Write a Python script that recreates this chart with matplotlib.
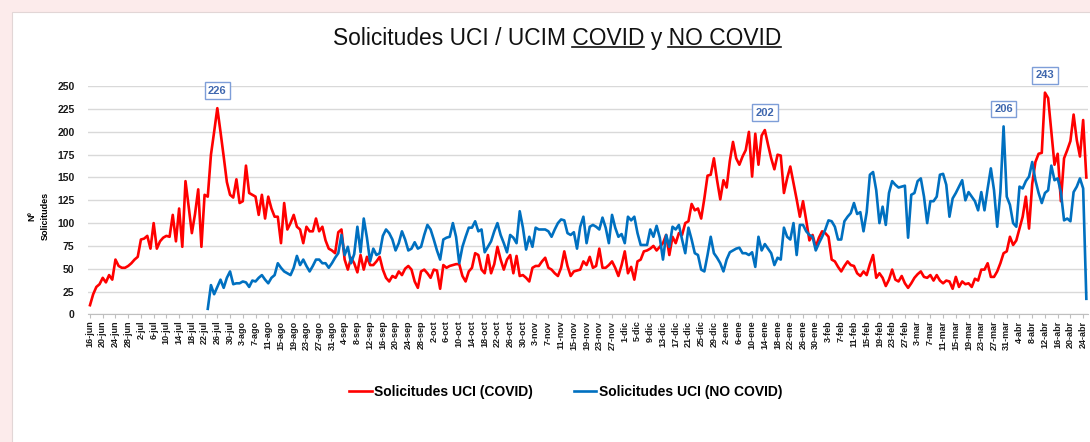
import numpy as np
import pandas as pd
import matplotlib
matplotlib.use("Agg")
import matplotlib.pyplot as plt
from matplotlib.patches import Rectangle
from matplotlib.lines import Line2D

plt.rcParams['font.family'] = ['Liberation Sans', 'DejaVu Sans']

# datos diarios desde el 16-jun-2020
fecha_inicio = "2020-06-16"
meses = {6: "jun", 7: "jul", 8: "ago", 9: "sep", 10: "oct", 11: "nov",
         12: "dic", 1: "ene", 2: "feb", 3: "mar", 4: "abr"}

covid = [
    10, 22, 30, 33, 40, 35, 43, 38, 60, 53,
    51, 51, 53, 56, 60, 63, 82, 83, 86, 72,
    100, 72, 80, 84, 86, 85, 109, 80, 116, 74,
    146, 118, 89, 110, 137, 74, 131, 129, 175, 200,
    226, 200, 173, 145, 131, 128, 148, 122, 124, 163,
    133, 131, 129, 109, 131, 105, 129, 116, 107, 107,
    78, 122, 93, 100, 109, 96, 93, 78, 96, 91,
    91, 105, 91, 96, 81, 72, 70, 67, 90, 93,
    60, 49, 62, 56, 46, 65, 49, 63, 54, 54,
    58, 63, 49, 40, 36, 42, 40, 47, 43, 50,
    53, 49, 36, 29, 47, 49, 45, 40, 49, 48,
    28, 54, 51, 53, 54, 55, 55, 42, 36, 47,
    51, 67, 65, 49, 45, 65, 45, 55, 74, 60,
    49, 60, 65, 45, 64, 42, 43, 40, 36, 51,
    53, 53, 58, 62, 51, 49, 45, 42, 51, 69,
    53, 42, 47, 48, 49, 58, 54, 63, 51, 53,
    72, 51, 51, 54, 58, 51, 42, 54, 69, 45,
    52, 38, 58, 60, 69, 70, 72, 75, 70, 74,
    78, 87, 65, 85, 78, 89, 87, 100, 102, 121,
    114, 116, 105, 127, 152, 153, 171, 147, 126, 147,
    139, 168, 189, 171, 164, 173, 180, 200, 151, 198,
    164, 196, 202, 186, 171, 159, 175, 174, 133, 149,
    162, 144, 126, 107, 124, 103, 81, 87, 74, 84,
    91, 89, 85, 60, 58, 52, 47, 53, 58, 54,
    53, 45, 42, 47, 43, 55, 65, 40, 45, 40,
    31, 38, 49, 38, 36, 42, 34, 29, 34, 40,
    44, 47, 41, 40, 43, 37, 43, 37, 34, 37,
    36, 28, 41, 30, 36, 33, 34, 30, 39, 37,
    49, 49, 56, 41, 41, 47, 56, 67, 69, 85,
    76, 81, 94, 107, 129, 94, 143, 167, 176, 177,
    243, 237, 200, 164, 176, 124, 171, 180, 190, 219,
    191, 173, 213, 150,
]

# la serie NO COVID empieza el 23-jul
no_covid_inicio = 37
no_covid = [
    6, 32, 22, 30, 38, 29, 40, 47, 33, 34, 34, 36, 35,
    30, 37, 36, 40, 43, 38, 34, 40, 43, 56,
    51, 47, 45, 43, 51, 64, 54, 60, 53, 47,
    53, 60, 60, 56, 56, 51, 56, 62, 67, 87,
    65, 74, 56, 66, 96, 68, 105, 84, 58, 72,
    65, 67, 86, 93, 89, 82, 70, 78, 91, 82,
    70, 72, 79, 72, 74, 87, 98, 93, 82, 70,
    60, 82, 84, 85, 100, 85, 56, 74, 85, 95,
    95, 102, 91, 93, 68, 74, 80, 91, 100, 87,
    78, 68, 87, 84, 78, 113, 95, 71, 85, 74,
    95, 93, 93, 93, 91, 85, 93, 100, 104, 103,
    89, 87, 90, 72, 96, 107, 78, 96, 98, 96,
    93, 106, 95, 78, 109, 95, 85, 88, 78, 107,
    103, 107, 89, 76, 76, 76, 93, 85, 97, 84,
    60, 87, 74, 96, 93, 98, 82, 67, 95, 82,
    67, 65, 49, 47, 65, 85, 67, 62, 56, 47,
    60, 68, 70, 72, 73, 67, 67, 65, 68, 52,
    85, 70, 77, 72, 67, 54, 62, 60, 95, 85,
    82, 100, 65, 98, 98, 91, 87, 85, 70, 78,
    85, 93, 103, 102, 96, 82, 82, 102, 107, 111,
    122, 110, 112, 91, 112, 153, 156, 136, 100, 118,
    98, 133, 146, 142, 139, 140, 141, 84, 131, 133,
    146, 149, 129, 100, 124, 124, 129, 153, 154, 142,
    107, 127, 133, 140, 147, 125, 134, 129, 124, 114,
    134, 114, 138, 160, 136, 96, 134, 206, 129, 120,
    100, 96, 140, 138, 146, 151, 167, 147, 133, 122,
    133, 136, 163, 147, 149, 134, 103, 105, 102, 134,
    140, 149, 138, 17,
]

# picos etiquetados: (serie, indice del dia)
picos = [("covid", 40), ("covid", 212), ("no_covid", 287), ("covid", 300)]

fechas = pd.date_range(fecha_inicio, periods=len(covid), freq="D")
x = np.arange(len(covid))
series = {
    "covid": np.array(covid, dtype=float),
    "no_covid": np.r_[np.full(no_covid_inicio, np.nan), no_covid],
}

W, H = 1090, 442
fig = plt.figure(figsize=(W / 100, H / 100), dpi=100)
fig.patch.set_facecolor('#FCEBEB')
fig.add_artist(Rectangle((12 / W, -0.01), 1, 1 - 12 / H + 0.01, transform=fig.transFigure,
                         facecolor='white', edgecolor='#E2D6D6', lw=0.8, zorder=0))

ax = fig.add_axes([0.0811, 0.2889, 0.917, 0.5159])
ax.set_facecolor('white')
ax.plot(x, series["covid"], color='#FF0000', lw=1.9, label='Solicitudes UCI (COVID)')
ax.plot(x, series["no_covid"], color='#0070C0', lw=1.9, label='Solicitudes UCI (NO COVID)')

ax.set_xlim(-0.5, len(covid) - 0.5)
ax.set_ylim(0, 250)
ax.set_yticks(range(0, 251, 25))
ax.grid(axis='y', color='#D9D9D9', lw=1)
ax.set_axisbelow(True)
for s in ['top', 'right', 'left']:
    ax.spines[s].set_visible(False)
ax.spines['bottom'].set_color('#BFBFBF')

ticks = x[::4]
ax.set_xticks(ticks)
ax.set_xticklabels([f"{fechas[i].day}-{meses[fechas[i].month]}" for i in ticks],
                   rotation=90, fontsize=6.5, fontweight='bold', color='#1a1a1a')
ax.tick_params(axis='x', length=3, color='#BFBFBF', pad=1.5)
ax.tick_params(axis='y', length=0, labelsize=7.5, pad=10, labelcolor='#1a1a1a')
for lab in ax.get_yticklabels():
    lab.set_fontweight('bold')

ax.set_ylabel("Nº\nSolicitudes", fontsize=6.5, fontweight='bold', linespacing=1.6)
ax.yaxis.set_label_coords(-0.039, 0.43)

for serie, i in picos:
    v = series[serie][i]
    ax.annotate(f"{v:.0f}", (i, v), xytext=(0, 12.5), textcoords='offset points',
                ha='center', va='center', fontsize=8, fontweight='bold', color='#3F67AE',
                bbox=dict(boxstyle='square,pad=0.3', fc='white', ec='#7E9ED8', lw=1))

# titulo con partes subrayadas
tam_titulo = 16.4
titulo = "Solicitudes UCI / UCIM COVID y NO COVID"
t = fig.text(0.511, 0.914, titulo, ha='center', va='center', fontsize=tam_titulo, color='#111111')
fig.canvas.draw()
r = fig.canvas.get_renderer()


def ancho(s):
    tmp = fig.text(0, 0, s, fontsize=tam_titulo)
    w = tmp.get_window_extent(r).width
    tmp.remove()
    return w


bb = t.get_window_extent(r)
y_sub = bb.y0 + 2.5
w1 = ancho("Solicitudes UCI / UCIM COVID")
segmentos = [(bb.x0 + w1 - ancho("COVID"), bb.x0 + w1),
             (bb.x1 - ancho("NO COVID"), bb.x1)]
for a, b in segmentos:
    fig.add_artist(Line2D([a / W, b / W], [y_sub / H, y_sub / H], transform=fig.transFigure,
                          color='#111111', lw=1.2))

fig.legend(loc='center', bbox_to_anchor=(0.519, 0.113), ncol=2, frameon=False,
           handlelength=1.6, handletextpad=0.15, columnspacing=3.0,
           prop={'size': 10, 'weight': 'bold'})

fig.savefig("out.png", dpi=100, facecolor=fig.get_facecolor())
